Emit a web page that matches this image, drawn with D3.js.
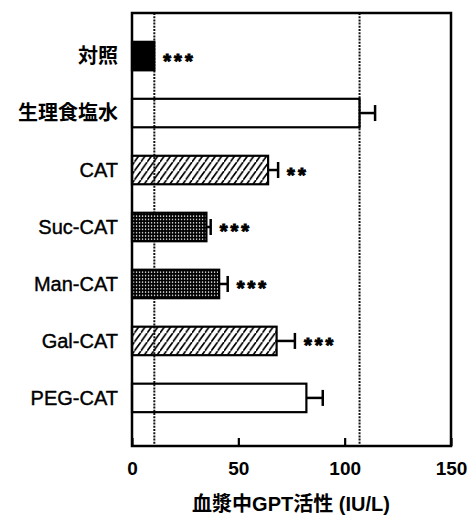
<!DOCTYPE html>
<html>
<head>
<meta charset="utf-8">
<script src="https://cdn.jsdelivr.net/npm/d3@7"></script>
<style>
  html, body { margin: 0; padding: 0; background: #fff; }
  svg { display: block; }
</style>
</head>
<body>
<svg id="chart" width="472" height="518"></svg>
<script>
// Serum GPT activity per treatment group (mean and one-sided SE)
const categories = ["対照", "生理食塩水", "CAT", "Suc-CAT", "Man-CAT", "Gal-CAT", "PEG-CAT"];
const means      = [10.5, 107, 64, 35, 41, 68, 82];
const errors     = [0, 7.3, 4.7, 2, 4, 8.6, 7.7];
const marks      = ["***", "", "**", "***", "***", "***", ""];
const xTicks     = [0, 50, 100, 150];
const xTitle     = "血漿中GPT活性 (IU/L)";

// Bar fill style for each group
const fillStyle = {
  "対照": "solid", "生理食塩水": "open", "CAT": "hatch",
  "Suc-CAT": "stipple", "Man-CAT": "stipple", "Gal-CAT": "hatch", "PEG-CAT": "open"
};

const svg = d3.select("#chart");
const plot = { left: 132, right: 451, top: 13, bottom: 446 };

const x = d3.scaleLinear().domain([0, 150]).range([plot.left, plot.right]);
const y = d3.scaleBand().domain(categories)
  .range([plot.top, plot.bottom])
  .paddingInner(0.5).paddingOuter(0.55).align(0.46);

// Patterns
const defs = svg.append("defs");
const hw = 6.4, hh = 9;
const hatch = defs.append("pattern").attr("id", "hatch")
  .attr("patternUnits", "userSpaceOnUse").attr("width", hw).attr("height", hh);
hatch.append("path")
  .attr("d", `M0,${hh}L${hw},0M${-hw},${hh}L0,0M${hw},${2*hh}L${2*hw},${hh}`)
  .attr("stroke", "#000").attr("stroke-width", 1.6);

const st = defs.append("pattern").attr("id", "stipple")
  .attr("patternUnits", "userSpaceOnUse").attr("width", 3).attr("height", 3.3);
st.append("rect").attr("width", 3).attr("height", 3.3).attr("fill", "#000");
st.append("rect").attr("x", 0.9).attr("y", 1).attr("width", 1.3).attr("height", 1.3).attr("fill", "#fff");

const fillOf = c => ({ solid: "#000", open: "none", hatch: "url(#hatch)", stipple: "url(#stipple)" })[fillStyle[c]];

// Reference lines at the control and saline means
svg.append("g").selectAll("line").data([means[0], means[1]]).join("line")
  .attr("x1", d => x(d)).attr("x2", d => x(d))
  .attr("y1", plot.top).attr("y2", plot.bottom)
  .attr("stroke", "#111").attr("stroke-width", 2)
  .attr("stroke-dasharray", "2,1.2");

// Bars
const rows = categories.map((c, i) => ({ c, m: means[i], e: errors[i], s: marks[i] }));
svg.append("g").selectAll("rect").data(rows).join("rect")
  .attr("x", x(0))
  .attr("y", d => y(d.c))
  .attr("width", d => x(d.m) - x(0))
  .attr("height", y.bandwidth())
  .attr("fill", d => fillOf(d.c))
  .attr("stroke", "#000").attr("stroke-width", 2.2);

// Error bars (upper side only)
const eb = svg.append("g").attr("stroke", "#000").attr("stroke-width", 2.5);
rows.filter(d => d.e > 0).forEach(d => {
  const cy = y(d.c) + y.bandwidth() / 2;
  eb.append("line").attr("x1", x(d.m)).attr("x2", x(d.m + d.e)).attr("y1", cy).attr("y2", cy);
  eb.append("line").attr("x1", x(d.m + d.e)).attr("x2", x(d.m + d.e)).attr("y1", cy - 8).attr("y2", cy + 8);
});

// Significance marks
svg.append("g").selectAll("text").data(rows.filter(d => d.s)).join("text")
  .attr("x", d => x(d.m + d.e) + 9)
  .attr("y", d => y(d.c) + y.bandwidth() / 2 + 11.5)
  .attr("font-family", "Liberation Sans, Arial, sans-serif")
  .attr("font-weight", "bold").attr("font-size", 20)
  .attr("letter-spacing", 3)
  .attr("stroke", "#000").attr("stroke-width", 1)
  .text(d => d.s);

// Frame
svg.append("rect")
  .attr("x", plot.left).attr("y", plot.top)
  .attr("width", plot.right - plot.left).attr("height", plot.bottom - plot.top)
  .attr("fill", "none").attr("stroke", "#000").attr("stroke-width", 2.5);

// X axis with inward ticks
const xAxis = svg.append("g").attr("transform", `translate(0,${plot.bottom})`)
  .call(d3.axisBottom(x).tickValues(xTicks).tickSizeInner(-8).tickSizeOuter(0).tickPadding(16));
xAxis.select(".domain").remove();
xAxis.selectAll(".tick line").attr("stroke", "#000").attr("stroke-width", 2.2);
xAxis.selectAll(".tick text")
  .attr("font-family", "Liberation Sans, Arial, sans-serif")
  .attr("font-weight", "bold").attr("font-size", 19).attr("fill", "#000");

// Category labels
svg.append("g").selectAll("text").data(categories).join("text")
  .attr("x", 118)
  .attr("y", c => y(c) + y.bandwidth() / 2)
  .attr("dy", "0.36em")
  .attr("text-anchor", "end")
  .attr("font-family", "Liberation Sans, Arial, 'Noto Sans CJK JP', sans-serif")
  .attr("font-weight", c => /[^\x00-\x7F]/.test(c) ? "bold" : "normal")
  .attr("font-size", 20)
  .attr("stroke", c => /[^\x00-\x7F]/.test(c) ? "none" : "#000")
  .attr("stroke-width", 0.4)
  .text(c => c);

// Axis title
svg.append("text")
  .attr("x", 291).attr("y", 511)
  .attr("text-anchor", "middle")
  .attr("font-family", "Liberation Sans, Arial, 'Noto Sans CJK JP', sans-serif")
  .attr("font-weight", "bold").attr("font-size", 20)
  .text(xTitle);
</script>
</body>
</html>
